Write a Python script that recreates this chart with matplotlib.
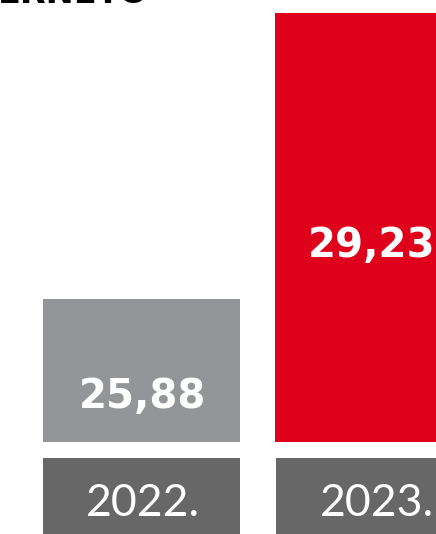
import matplotlib.pyplot as plt

years = ["2022.", "2023."]
values = [25.88, 29.23]
value_labels = ["25,88", "29,23"]
bar_colors = ["#939598", "#DF001B"]
label_color = "#676767"
title = "ERNETO"

fig = plt.figure(figsize=(4.36, 5.34), dpi=100)

# bars (axis does not start at zero)
ax = fig.add_axes([0, 92 / 534, 1, 442 / 534])
x = [0, 1]
ax.bar(x, [v - 24.2 for v in values], bottom=24.2, width=0.849,
       color=bar_colors)
ax.set_xlim(-0.61, 1.269)
ax.set_ylim(24.2, 24.2 + 442 / 85.3)
ax.axis("off")

ax.text(0.004, 24.73, value_labels[0], ha="center", va="center",
        color="white", fontsize=29, fontweight="bold", family="DejaVu Sans")
ax.text(0.991, 26.50, value_labels[1], ha="center", va="center",
        color="white", fontsize=29, fontweight="bold", family="DejaVu Sans")

# year boxes
lx = fig.add_axes([0, 0, 1, 76 / 534])
lx.bar([0, 1.004], [1, 1], width=0.849, color=label_color)
lx.set_xlim(-0.61, 1.269)
lx.set_ylim(0, 1)
lx.axis("off")
lx.text(0.006, 0.40, years[0], ha="center", va="center", color="white",
        fontsize=32, family="Lato")
lx.text(1.013, 0.40, years[1], ha="center", va="center", color="white",
        fontsize=32, family="Lato")

# title, cut off at the top edge
fig.text(-0.005, 1 - 3 / 534, title, ha="left", va="baseline",
         fontsize=24, fontweight="bold", color="black")

fig.savefig("out.png", dpi=100)
